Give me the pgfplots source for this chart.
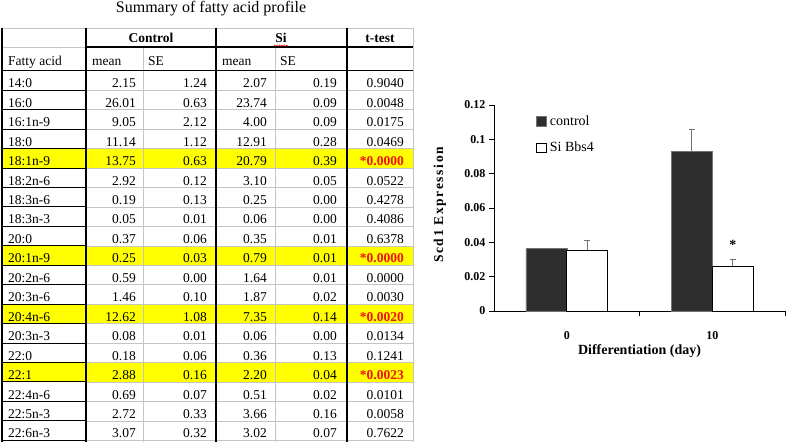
\documentclass[border=0pt]{standalone}
\usepackage{pgfplots}
\pgfplotsset{compat=1.18}
\usepackage{fontspec}
\setmainfont{Liberation Serif}
\usetikzlibrary{decorations.pathmorphing}
\definecolor{ctrlbar}{HTML}{2E2E2E}
\definecolor{hlyel}{HTML}{FFFF00}
\definecolor{gridg}{HTML}{C4C4C4}
\definecolor{ttred}{HTML}{F01010}
\newcommand{\tf}{\fontsize{13.5bp}{16bp}\selectfont}
\begin{document}
\begin{tikzpicture}
\useasboundingbox (0,0) rectangle (787bp,442bp);
\begin{scope}[x=1bp,y=-1bp,shift={(0bp,442bp)}]
  % title
  \node[anchor=base,inner sep=0] at (211,12.7) {\fontsize{16bp}{19bp}\selectfont Summary of fatty acid profile};
  % highlighted rows
  \foreach \r in {4,9,12,15}{
    \fill[hlyel] (2,{70.8+\r*19.45}) rectangle (413,{70.8+(\r+1)*19.45});
  }
  % light grid
  \draw[gridg,line width=0.6bp] (2,28) -- (413,28);
  \draw[gridg,line width=0.6bp] (2,47) -- (86,47);
  \foreach \r in {1,...,19}{
    \draw[gridg,line width=0.6bp] (86,{70.8+\r*19.45}) -- (413,{70.8+\r*19.45});
  }
  \draw[gridg,line width=0.6bp] (143,47) -- (143,442);
  \draw[gridg,line width=0.6bp] (275,47) -- (275,442);
  \draw[gridg,line width=0.6bp] (413,28) -- (413,442);
  % dark lines
  \foreach \xx in {2,86,216,347}{
    \draw[black,line width=1.1bp] (\xx,28) -- (\xx,442);
  }
  \draw[black,line width=1.3bp] (86,47) -- (413,47);
  \draw[black,line width=1.3bp] (2,70.8) -- (413,70.8);
  \foreach \r in {1,...,19}{
    \draw[black,line width=1bp] (2,{70.8+\r*19.45}) -- (86,{70.8+\r*19.45});
  }
  % headers
  \node[anchor=base,inner sep=0] at (151,43) {\tf\bfseries Control};
  \node[anchor=base,inner sep=0] at (281,43) {\tf\bfseries Si};
  \draw[ttred,line width=0.5bp,decorate,decoration={snake,amplitude=0.7bp,segment length=2.4bp}] (274,45.6) -- (288,45.6);
  \node[anchor=base,inner sep=0] at (380,43) {\tf\bfseries t-test};
  \node[anchor=base west,inner sep=0] at (8,66) {\tf Fatty acid};
  \node[anchor=base west,inner sep=0] at (92,66) {\tf mean};
  \node[anchor=base west,inner sep=0] at (148,66) {\tf SE};
  \node[anchor=base west,inner sep=0] at (222,66) {\tf mean};
  \node[anchor=base west,inner sep=0] at (280,66) {\tf SE};
  % data
  \foreach \ri/\nm/\ca/\cb/\sa/\sbb/\tv/\hh in {
    0/14:0/2.15/1.24/2.07/0.19/0.9040/0,
    1/16:0/26.01/0.63/23.74/0.09/0.0048/0,
    2/16:1n-9/9.05/2.12/4.00/0.09/0.0175/0,
    3/18:0/11.14/1.12/12.91/0.28/0.0469/0,
    4/18:1n-9/13.75/0.63/20.79/0.39/0.0000/1,
    5/18:2n-6/2.92/0.12/3.10/0.05/0.0522/0,
    6/18:3n-6/0.19/0.13/0.25/0.00/0.4278/0,
    7/18:3n-3/0.05/0.01/0.06/0.00/0.4086/0,
    8/20:0/0.37/0.06/0.35/0.01/0.6378/0,
    9/20:1n-9/0.25/0.03/0.79/0.01/0.0000/1,
    10/20:2n-6/0.59/0.00/1.64/0.01/0.0000/0,
    11/20:3n-6/1.46/0.10/1.87/0.02/0.0030/0,
    12/20:4n-6/12.62/1.08/7.35/0.14/0.0020/1,
    13/20:3n-3/0.08/0.01/0.06/0.00/0.0134/0,
    14/22:0/0.18/0.06/0.36/0.13/0.1241/0,
    15/22:1/2.88/0.16/2.20/0.04/0.0023/1,
    16/22:4n-6/0.69/0.07/0.51/0.02/0.0101/0,
    17/22:5n-3/2.72/0.33/3.66/0.16/0.0058/0,
    18/22:6n-3/3.07/0.32/3.02/0.07/0.7622/0}{
    \pgfmathsetmacro\yb{70.8+(\ri+1)*19.45-2.4}
    \node[anchor=base west,inner sep=0] at (8,\yb) {\tf\nm};
    \node[anchor=base east,inner sep=0] at (136,\yb) {\tf\ca};
    \node[anchor=base east,inner sep=0] at (207,\yb) {\tf\cb};
    \node[anchor=base east,inner sep=0] at (267,\yb) {\tf\sa};
    \node[anchor=base east,inner sep=0] at (337,\yb) {\tf\sbb};
    \ifnum\hh=1
      \node[anchor=base east,inner sep=0] at (404,\yb) {\tf\bfseries\color{ttred}*\tv};
    \else
      \node[anchor=base east,inner sep=0] at (404,\yb) {\tf\tv};
    \fi
  }
\end{scope}
\begin{axis}[
  at={(494bp,131bp)}, anchor=south west,
  scale only axis, width=291bp, height=206bp,
  xmin=-0.5, xmax=1.5, ymin=0, ymax=0.12,
  axis lines=left, axis line style={-, line width=0.9bp},
  tick align=outside, major tick length=5bp, minor tick length=5bp,
  xtick={0,1}, xticklabels={0,10},
  minor xtick={0.5,1.5},
  major x tick style={draw=none},
  tick style={black, line width=0.9bp},
  ytick={0,0.02,0.04,0.06,0.08,0.1,0.12},
  yticklabels={0,0.02,0.04,0.06,0.08,0.1,0.12},
  tick label style={font=\fontsize{12bp}{14bp}\selectfont\bfseries},
  xticklabel style={anchor=base, yshift=-23bp},
  xlabel={Differentiation (day)},
  xlabel style={at={(axis description cs:0.5,0)}, anchor=base, yshift=-43.5bp,
    font=\fontsize{14bp}{16bp}\selectfont\bfseries},
  ylabel={Scd1 Expression},
  ylabel style={at={(axis description cs:-0.186,0.515)}, anchor=center,
    font=\fontsize{13.5bp}{16bp}\selectfont\bfseries\addfontfeature{LetterSpace=12}},
  legend image code/.code={\draw[#1,line width=0.6bp] (0bp,-4.7bp) rectangle (9.4bp,4.7bp);
    \path (12bp,0bp);},
  legend style={draw=none, fill=none, at={(axis description cs:0.144,0.955)}, anchor=north west,
    font=\fontsize{14bp}{16bp}\selectfont, row sep=13bp, inner sep=0pt,
    nodes={inner sep=1.2bp}},
  legend cell align=left,
  clip=false,
]
\addplot[ybar, bar width=41bp, bar shift=-20.5bp, fill=ctrlbar, draw=black!55, line width=0.5bp]
  coordinates {(0,0.0363) (1,0.0932)};
\addlegendentry{control}
\addplot[ybar, bar width=41bp, bar shift=20.5bp, fill=white, draw=black, line width=0.6bp,
  error bars/.cd, y dir=plus, y explicit,
  error bar style={xshift=20.5bp, black!55, line width=0.9bp},
  error mark options={rotate=90, mark size=3bp, black!55, line width=0.9bp}]
  coordinates {(0,0.0356) +- (0,0.0054) (1,0.0262) +- (0,0.0039)};
\addlegendentry{Si Bbs4}
\addplot[ybar, bar width=41bp, bar shift=-20.5bp, draw=none, fill=none, forget plot,
  error bars/.cd, y dir=plus, y explicit,
  error bar style={xshift=-20.5bp, black!55, line width=0.9bp},
  error mark options={rotate=90, mark size=3bp, black!55, line width=0.9bp}]
  coordinates {(1,0.0932) +- (0,0.0128)};
\node[anchor=base, inner sep=0, font=\fontsize{14bp}{16bp}\selectfont\bfseries, xshift=20.5bp]
  at (axis cs:1,0.0357) {*};
\end{axis}
\end{tikzpicture}
\end{document}
